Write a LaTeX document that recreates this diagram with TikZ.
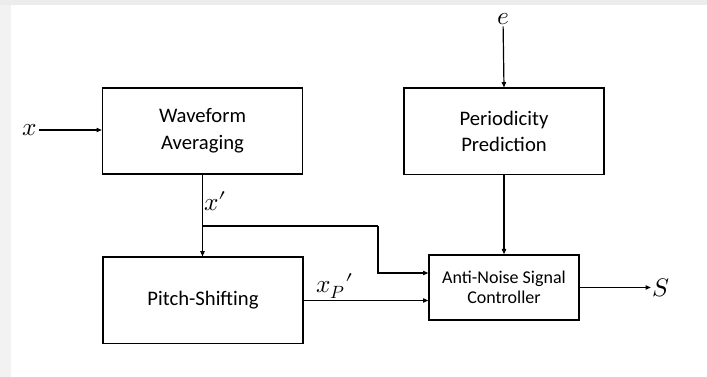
\documentclass[tikz,border=0pt]{standalone}
\usepackage{fontspec}
\usepackage{unicode-math}
\setmainfont{Carlito}
\setmathfont{Latin Modern Math}
\usepackage{tikz}
\usetikzlibrary{arrows.meta,calc,positioning}
\definecolor{framegray}{RGB}{236,236,236}

\begin{document}
\begin{tikzpicture}[x=0.75pt,y=-0.75pt,
    blk/.style={draw,line width=1pt,align=center,inner sep=2pt,
      font=\fontsize{15.5}{20}\selectfont},
    sig/.style={line width=0.9pt,-{Triangle[length=4pt,width=3.2pt]}},
    lbl/.style={inner sep=1pt,font=\fontsize{19}{22}\selectfont}]
  \useasboundingbox (0,0) rectangle (707,377);
  \fill[framegray] (0,0) rectangle (707,5);
  \fill[framegray!70] (0,5) rectangle (11,377);
  \node[blk,minimum width=150pt,minimum height=64.5pt] (wave) at (202.5,131) {Waveform\\Averaging};
  \node[blk,minimum width=150pt,minimum height=65pt] (pitch) at (203,300.5) {Pitch-Shifting};
  \node[blk,minimum width=150pt,minimum height=65pt] (period) at (504,131.5) {Periodicity\\Prediction};
  \node[blk,minimum width=112.5pt,minimum height=48.75pt,
    font=\fontsize{13.5}{15}\selectfont] (ctrl) at (504,287.5) {Anti-Noise Signal\\Controller};
  \node[lbl] (x) at (30,130) {$x$};
  \node[lbl] (e) at (503,19) {$e$};
  \node[lbl] (s) at (661,288) {$S$};
  \coordinate (br) at (wave.south |- 0,226);
  \coordinate (bend) at (378,226);
  \coordinate (in1) at ($(ctrl.west)+(0,-14.5)$);
  \draw[sig] (x) -- (wave.west |- x);
  \draw[sig] (e) -- (period.north);
  \draw[sig] (wave.south) -- (pitch.north -| wave.south)
    node[pos=0.32,right,lbl] {$x\prime$};
  \draw[line width=0.9pt] (br) -- (bend);
  \draw[sig] (bend) |- (in1);
  \draw[sig] (pitch.east) -- (pitch.east -| ctrl.west)
    node[pos=0.25,above,lbl] {$x_P\prime$};
  \draw[sig] (period.south) -- (ctrl.north);
  \draw[sig] (ctrl.east) -- (s.west |- ctrl.east);
\end{tikzpicture}
\end{document}
